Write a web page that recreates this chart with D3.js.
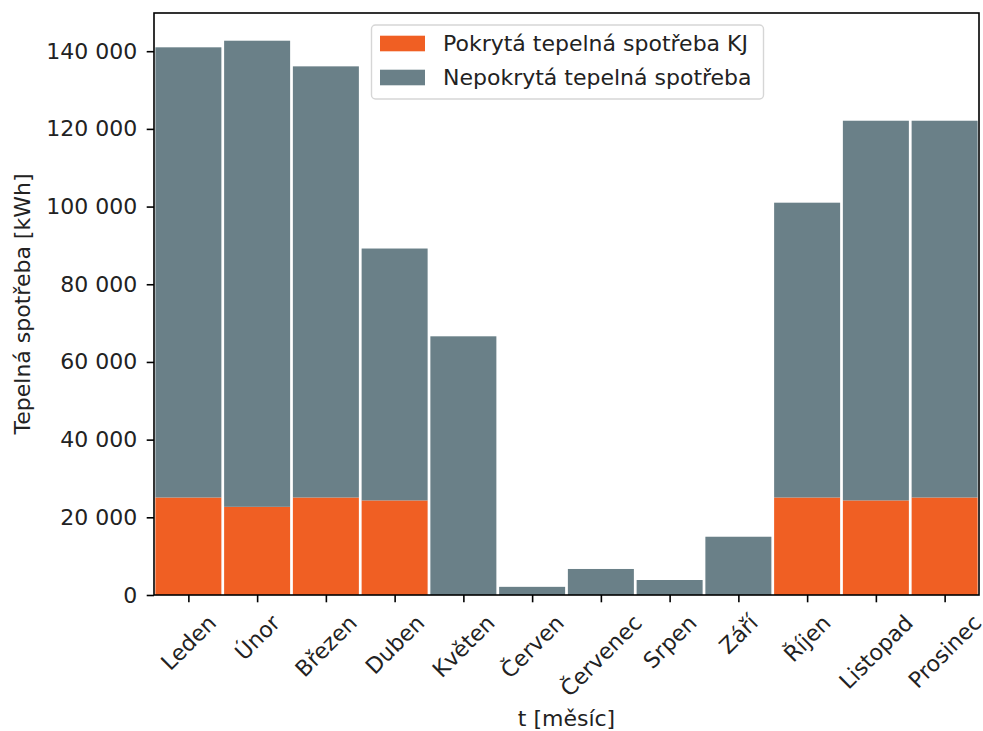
<!DOCTYPE html>
<html>
<head>
<meta charset="utf-8">
<script src="https://cdn.jsdelivr.net/npm/d3@7"></script>
<style>
  html, body { margin: 0; padding: 0; background: #fff; }
  svg { display: block; font-family: "DejaVu Sans", sans-serif; }
</style>
</head>
<body>
<svg id="chart" width="983" height="731"></svg>
<script>
const months = ["Leden", "Únor", "Březen", "Duben", "Květen", "Červen", "Červenec", "Srpen", "Září", "Říjen", "Listopad", "Prosinec"];
const covered = [25100, 22700, 25100, 24350, 0, 0, 0, 0, 0, 25100, 24350, 25100];
const uncovered = [115900, 120000, 111000, 64850, 66600, 2100, 6700, 3860, 15000, 75900, 97750, 97000];
const seriesNames = ["Pokrytá tepelná spotřeba KJ", "Nepokrytá tepelná spotřeba"];
const seriesColors = ["#F05F23", "#6A8088"];
const yTicks = [0, 20000, 40000, 60000, 80000, 100000, 120000, 140000];
const xTitle = "t [měsíc]";
const yTitle = "Tepelná spotřeba [kWh]";

const W = 983, H = 731;
const margin = { left: 154, top: 13, right: 4, bottom: 136 };
const iw = W - margin.left - margin.right;
const ih = H - margin.top - margin.bottom;
const fs = 22;

const svg = d3.select("#chart");
const g = svg.append("g").attr("transform", `translate(${margin.left},${margin.top})`);

const rows = months.map((m, i) => ({ month: m, covered: covered[i], uncovered: uncovered[i] }));
const stack = d3.stack().keys(["covered", "uncovered"]);
const stacked = stack(rows);
const maxTotal = d3.max(rows, d => d.covered + d.uncovered);

const x = d3.scaleLinear().domain([-0.5, months.length - 0.5]).range([0, iw]);
const y = d3.scaleLinear().domain([0, maxTotal * 1.05]).range([ih, 0]);
const barW = 0.96;

stacked.forEach((layer, li) => {
  g.append("g").selectAll("rect").data(layer).join("rect")
    .attr("x", (d, i) => x(i - barW / 2))
    .attr("width", (d, i) => x(i + barW / 2) - x(i - barW / 2))
    .attr("y", d => y(d[1]))
    .attr("height", d => Math.max(0, y(d[0]) - y(d[1])))
    .attr("fill", seriesColors[li]);
});

const fmt = v => d3.format(",")(v).replace(/,/g, " ");
const tickLen = 7.3, tickPad = 7.3;

// y axis
const yAxis = d3.axisLeft(y).tickValues(yTicks).tickFormat(fmt).tickSize(tickLen).tickPadding(9.5);
const yg = g.append("g").call(yAxis);
yg.select(".domain").remove();
yg.selectAll(".tick line").attr("stroke", "#000").attr("stroke-width", 1.6);
yg.selectAll(".tick text").attr("font-size", fs).attr("fill", "#222").attr("font-family", "DejaVu Sans");

// x axis ticks
const xAxis = d3.axisBottom(x).tickValues(d3.range(months.length)).tickFormat("").tickSize(tickLen);
const xg = g.append("g").attr("transform", `translate(0,${ih})`).call(xAxis);
xg.select(".domain").remove();
xg.selectAll(".tick line").attr("stroke", "#000").attr("stroke-width", 1.6);

// rotated x labels (matplotlib-style: bbox centered on tick, top at pad)
const lblTop = ih + tickLen + tickPad;
const hTxt = 1.17 * fs;
months.forEach((m, i) => {
  const t = g.append("text").text(m)
    .attr("font-size", fs).attr("fill", "#222")
    .attr("text-anchor", "middle");
  const w = t.node().getComputedTextLength();
  const half = (w + hTxt) / (2 * Math.SQRT2);
  const cx = x(i), cy = lblTop + half;
  t.attr("x", cx).attr("y", cy).attr("dy", "0.36em")
    .attr("transform", `rotate(-45,${cx},${cy})`);
});

// frame
g.append("rect").attr("x", 0).attr("y", 0).attr("width", iw).attr("height", ih)
  .attr("fill", "none").attr("stroke", "#000").attr("stroke-width", 1.6);

// axis titles
svg.append("text").text(xTitle)
  .attr("x", margin.left + iw / 2).attr("y", 718).attr("dy", "0.36em")
  .attr("text-anchor", "middle").attr("font-size", fs).attr("fill", "#222");
svg.append("text").text(yTitle)
  .attr("transform", `translate(22,${margin.top + ih / 2}) rotate(-90)`)
  .attr("dy", "0.36em")
  .attr("text-anchor", "middle").attr("font-size", fs).attr("fill", "#222");

// legend
const lg = svg.append("g");
const lgX = 371.5, lgY = 25, lgW = 392, lgH = 74;
lg.append("rect").attr("x", lgX).attr("y", lgY).attr("width", lgW).attr("height", lgH)
  .attr("rx", 4).attr("fill", "#fff").attr("fill-opacity", 0.8)
  .attr("stroke", "#d6d6d6").attr("stroke-width", 1.4);
seriesNames.forEach((name, i) => {
  const cy = 43.5 + i * 34;
  lg.append("rect").attr("x", 380).attr("y", cy - 7.8).attr("width", 45).attr("height", 15.6)
    .attr("fill", seriesColors[i]);
  lg.append("text").text(name).attr("x", 443).attr("y", cy).attr("dy", "0.36em")
    .attr("font-size", fs).attr("fill", "#222");
});
</script>
</body>
</html>
